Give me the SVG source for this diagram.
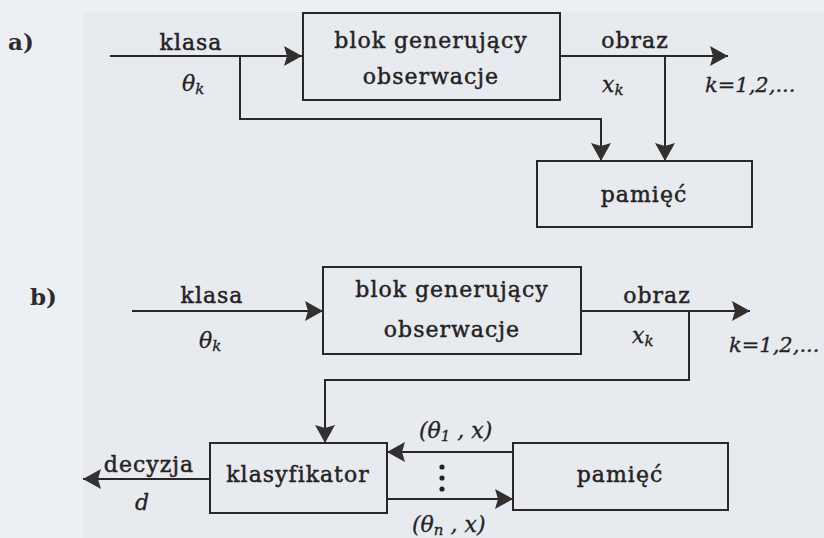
<svg xmlns="http://www.w3.org/2000/svg" width="824" height="538" viewBox="0 0 824 538">
  <defs>
    <marker id="arrow" viewBox="0 0 18 20" refX="18" refY="10" markerWidth="18" markerHeight="20" markerUnits="userSpaceOnUse" orient="auto">
      <path d="M0,0 L18,10 L0,20 L3,10 Z" fill="#353030"/>
    </marker>
  </defs>
  <style>
    .box { fill: none; stroke: #2b2727; stroke-width: 2; }
    .wire { fill: none; stroke: #2b2727; stroke-width: 2; }
    .lbl { font-family: 'DejaVu Serif', serif; font-size: 22px; letter-spacing: 1px; fill: #262222; stroke: #262222; stroke-width: 0.45; }
    .mid { text-anchor: middle; }
    .math { font-family: 'DejaVu Serif', serif; font-size: 22px; font-style: italic; fill: #262222; stroke: #262222; stroke-width: 0.3; }
    .idx { font-size: 21px; }
    .sub { font-size: 15px; }
    .tag { font-family: 'DejaVu Serif', serif; font-size: 23px; font-weight: bold; fill: #2f2b2b; }
  </style>

  <!-- paper -->
  <rect width="824" height="538" fill="#e7ebf0"/>
  <rect width="83" height="538" fill="#eceff3"/>
  <rect width="824" height="12" fill="#eceff3"/>

  <!-- ===== a) ===== -->
  <text class="tag" x="8" y="50">a)</text>

  <g id="a-generator">
    <rect class="box" x="303" y="13" width="257" height="87"/>
    <text class="lbl mid" x="431" y="48">blok generujący</text>
    <text class="lbl mid" x="431" y="84">obserwacje</text>
  </g>
  <g id="a-memory">
    <rect class="box" x="537" y="161" width="215" height="66"/>
    <text class="lbl mid" x="644" y="202">pamięć</text>
  </g>

  <g id="a-connectors">
    <path class="wire" d="M110,56 H302" marker-end="url(#arrow)"/>
    <path class="wire" d="M240,56 V119 H601 V161" marker-end="url(#arrow)"/>
    <path class="wire" d="M560,56 H728" marker-end="url(#arrow)"/>
    <path class="wire" d="M665,56 V161" marker-end="url(#arrow)"/>
  </g>

  <g id="a-labels">
    <text class="lbl mid" x="191" y="50">klasa</text>
    <text class="math" x="182" y="91">θ<tspan class="sub" dy="3">k</tspan></text>
    <text class="lbl mid" x="635" y="48">obraz</text>
    <text class="math" x="602" y="92">x<tspan class="sub" dy="3">k</tspan></text>
    <text class="math idx" x="705" y="92">k=1,2,...</text>
  </g>

  <!-- ===== b) ===== -->
  <text class="tag" x="30" y="305">b)</text>

  <g id="b-generator">
    <rect class="box" x="323" y="267" width="258" height="87"/>
    <text class="lbl mid" x="452" y="297">blok generujący</text>
    <text class="lbl mid" x="452" y="337">obserwacje</text>
  </g>
  <g id="b-classifier">
    <rect class="box" x="210" y="443" width="177" height="70"/>
    <text class="lbl mid" x="298" y="482">klasyfikator</text>
  </g>
  <g id="b-memory">
    <rect class="box" x="513" y="443" width="215" height="67"/>
    <text class="lbl mid" x="620" y="482">pamięć</text>
  </g>

  <g id="b-connectors">
    <path class="wire" d="M132,311 H323" marker-end="url(#arrow)"/>
    <path class="wire" d="M581,311 H750" marker-end="url(#arrow)"/>
    <path class="wire" d="M689,311 V380 H325 V443" marker-end="url(#arrow)"/>
    <path class="wire" d="M210,479 H83" marker-end="url(#arrow)"/>
    <path class="wire" d="M513,452 H387" marker-end="url(#arrow)"/>
    <path class="wire" d="M387,499 H513" marker-end="url(#arrow)"/>
  </g>

  <g id="b-labels">
    <text class="lbl mid" x="212" y="303">klasa</text>
    <text class="math" x="199" y="348">θ<tspan class="sub" dy="3">k</tspan></text>
    <text class="lbl mid" x="657" y="303">obraz</text>
    <text class="math" x="632" y="343">x<tspan class="sub" dy="3">k</tspan></text>
    <text class="math idx" x="729" y="352">k=1,2,...</text>
    <text class="lbl mid" x="149" y="472">decyzja</text>
    <text class="math" x="135" y="510">d</text>
    <text class="math" x="419" y="438">(θ<tspan class="sub" dy="3">1</tspan><tspan dy="-3"> , x)</tspan></text>
    <text class="math" x="412" y="532">(θ<tspan class="sub" dy="3">n</tspan><tspan dy="-3"> , x)</tspan></text>
    <circle cx="442" cy="467" r="2.6" fill="#262222"/>
    <circle cx="442" cy="478" r="2.6" fill="#262222"/>
    <circle cx="442" cy="489" r="2.6" fill="#262222"/>
  </g>
</svg>
